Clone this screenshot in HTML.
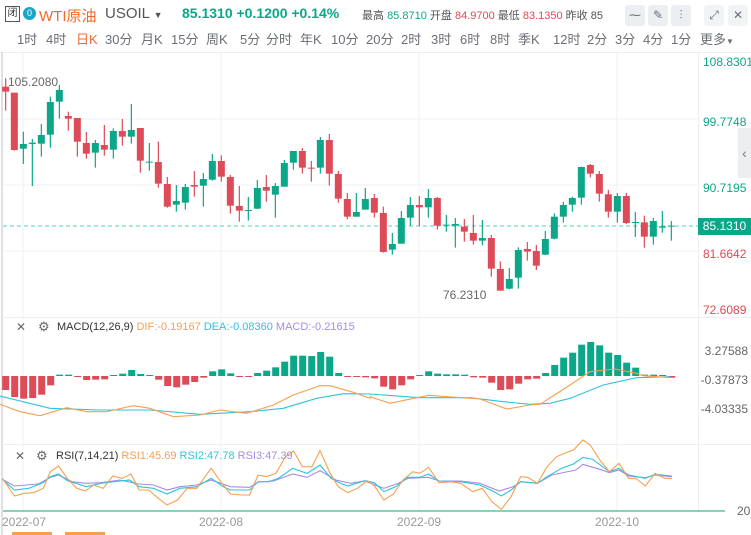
<!DOCTYPE html>
<html><head><meta charset="utf-8"><style>
body{margin:0;width:751px;height:535px;overflow:hidden;background:#fff;font-family:"Liberation Sans","Noto Sans CJK SC",sans-serif;position:relative}
.a{position:absolute;white-space:nowrap}
.tf{position:absolute;top:29px;font-size:13px;color:#6b6e76}
.btn{position:absolute;top:5px;width:20px;height:21px;background:#eceef1;border-radius:3px;color:#6b6e76;font-size:12px;text-align:center;line-height:21px}
</style></head><body>
<div class="a" style="left:5px;top:6px;width:13px;height:14px;border:1px solid #555;font-size:10px;line-height:14px;text-align:center;color:#333">闭</div>
<div class="a" style="left:23px;top:7px;width:13px;height:13px;border-radius:50%;background:#1aa6c8;color:#fff;font-size:9px;line-height:13px;text-align:center">0</div>
<div class="a" style="left:39px;top:5px;font-size:15px;color:#f06a2c">WTI原油</div>
<div class="a" style="left:105px;top:5px;font-size:15px;color:#555">USOIL <span style="font-size:9px">▼</span></div>
<div class="a" style="left:182px;top:5px;font-size:14px;color:#0ca789;font-weight:bold">85.1310 +0.1200 +0.14%</div>
<div class="a" style="left:362px;top:7px;font-size:11px;color:#555">最高 <span style="color:#0ca789">85.8710</span> 开盘 <span style="color:#e04855">84.9700</span> 最低 <span style="color:#e04855">83.1350</span> 昨收 85</div>
<div class="btn" style="left:625px">⁓</div><div class="btn" style="left:648px">✎</div><div class="btn" style="left:671px">⫶</div>
<div class="btn" style="left:704px;background:#f2f3f5">⤢</div><div class="btn" style="left:728px;background:#f2f3f5">✕</div>
<span class="tf" style="left:17px">1时</span><span class="tf" style="left:46px">4时</span><span class="tf" style="left:76px;color:#f06a2c">日K</span><span class="tf" style="left:105px">30分</span><span class="tf" style="left:141px">月K</span><span class="tf" style="left:171px">15分</span><span class="tf" style="left:206px">周K</span><span class="tf" style="left:240px">5分</span><span class="tf" style="left:266px">分时</span><span class="tf" style="left:300px">年K</span><span class="tf" style="left:331px">10分</span><span class="tf" style="left:366px">20分</span><span class="tf" style="left:401px">2时</span><span class="tf" style="left:431px">3时</span><span class="tf" style="left:460px">6时</span><span class="tf" style="left:490px">8时</span><span class="tf" style="left:518px">季K</span><span class="tf" style="left:553px">12时</span><span class="tf" style="left:587px">2分</span><span class="tf" style="left:615px">3分</span><span class="tf" style="left:643px">4分</span><span class="tf" style="left:671px">1分</span><span class="tf" style="left:700px">更多<span style="font-size:8px">▼</span></span>

<svg id="s" class="a" style="left:0;top:0" width="751" height="535"></svg>

<div class="a" style="left:8px;top:75px;font-size:12px;color:#666">105.2080</div>
<div class="a" style="left:443px;top:288px;font-size:12px;color:#666">76.2310</div>
<div class="a" style="left:703px;top:55px;font-size:12px;color:#0ca789">108.8301</div>
<div class="a" style="left:703px;top:115px;font-size:12px;color:#0ca789">99.7748</div>
<div class="a" style="left:703px;top:181px;font-size:12px;color:#0ca789">90.7195</div>
<div class="a" style="left:698px;top:218px;width:53px;height:17px;background:#0ca789;color:#fff;font-size:12px;line-height:17px;text-align:center">85.1310</div>
<div class="a" style="left:703px;top:247px;font-size:12px;color:#e04855">81.6642</div>
<div class="a" style="left:703px;top:303px;font-size:12px;color:#e04855">72.6089</div>
<div class="a" style="left:738px;top:128px;width:13px;height:50px;background:#eceef1;color:#777;font-size:14px;line-height:50px;text-align:center">‹</div>

<div class="a" style="left:16px;top:320px;font-size:12px;color:#666">✕</div>
<div class="a" style="left:38px;top:319px;font-size:13px;color:#666">⚙</div>
<div class="a" style="left:57px;top:321px;font-size:11px;color:#333">MACD(12,26,9) <span style="color:#f5a04f">DIF:-0.19167</span> <span style="color:#2ec3dc">DEA:-0.08360</span> <span style="color:#a58be8">MACD:-0.21615</span></div>
<div class="a" style="right:3px;top:344px;font-size:12px;color:#666">3.27588</div>
<div class="a" style="right:3px;top:373px;font-size:12px;color:#666">-0.37873</div>
<div class="a" style="right:3px;top:402px;font-size:12px;color:#666">-4.03335</div>

<div class="a" style="left:15px;top:449px;font-size:12px;color:#666">✕</div>
<div class="a" style="left:36px;top:448px;font-size:13px;color:#666">⚙</div>
<div class="a" style="left:56px;top:450px;font-size:11px;color:#333">RSI(7,14,21) <span style="color:#f5a04f">RSI1:45.69</span> <span style="color:#2ec3dc">RSI2:47.78</span> <span style="color:#a58be8">RSI3:47.39</span></div>
<div class="a" style="left:737px;top:504px;font-size:12px;color:#666">20</div>
<div class="a" style="left:2px;top:515px;font-size:12px;color:#999">2022-07</div>
<div class="a" style="left:199px;top:515px;font-size:12px;color:#999">2022-08</div>
<div class="a" style="left:397px;top:515px;font-size:12px;color:#999">2022-09</div>
<div class="a" style="left:595px;top:515px;font-size:12px;color:#999">2022-10</div>
<div class="a" style="left:12px;top:532px;width:40px;height:3px;background:#f5a04f"></div>
<div class="a" style="left:65px;top:532px;width:40px;height:3px;background:#f5a04f"></div>

<script>
var G='#0ca789',R='#dc4b57',s='';
[23,221,419,617].forEach(function(x){s+='<line x1="'+x+'" y1="52" x2="'+x+'" y2="512" stroke="#f0f1f4"/>';});
[119,185,251].forEach(function(y){s+='<line x1="3" y1="'+y+'" x2="698" y2="'+y+'" stroke="#f0f1f4"/>';});
s+='<line x1="0" y1="52.5" x2="751" y2="52.5" stroke="#eceef1"/>';
s+='<line x1="698.5" y1="52" x2="698.5" y2="512" stroke="#eceef1"/>';
s+='<line x1="2" y1="52" x2="2" y2="535" stroke="#dde1e6" stroke-width="2"/>';
s+='<line x1="0" y1="317.5" x2="751" y2="317.5" stroke="#eceef1"/><line x1="0" y1="444.5" x2="751" y2="444.5" stroke="#eceef1"/>';
s+='<line x1="3" y1="226" x2="698" y2="226" stroke="#5dd0b8" stroke-dasharray="4,3"/>';
var c1=[[17,R,55,152,80,95],[43,R,98,272,98,270],[70,G,215,312,252,266],[97,G,237,378,248,252],[124,G,192,290,225,251],[151,G,110,263,126,224],[178,G,75,176,90,125],[205,R,155,212,168,176],[232,R,174,290,174,245],[259,R,216,296,249,281],[286,G,240,323,249,278],[313,R,195,287,255,269],[340,G,205,296,213,269],[367,R,177,257,213,230],[394,G,132,251,210,230],[421,R,204,338,204,302],[448,G,249,332,305,308],[475,R,245,383,306,371],[502,R,351,443,372,440],[529,G,375,455,423,434],[556,G,372,449,381,428],[583,R,333,410,375,380],[610,G,339,440,357,377],[637,G,282,362,303,359],[664,R,286,365,303,350],[691,R,345,461,351,437],[718,R,378,485,438,452],[745,G,411,482,450,452],[772,G,360,447,384,446],[799,R,345,425,381,392],[826,G,369,473,378,404],[853,G,300,380,309,380],[880,G,273,329,273,308],[907,R,264,341,273,323],[934,R,303,365,323,326],[961,G,231,341,240,323],[988,R,222,377,240,341],[1015,R,333,428,342,416],[1042,R,399,478,417,470],[1069,G,399,470,456,470],[1096,G,384,449,417,449],[1123,R,402,473,414,458]];
var c2=[[40,R,440,578,459,576],[67,G,519,584,552,569],[94,G,453,551,474,551],[121,G,411,497,435,473],[148,R,408,498,435,442],[175,G,387,473,414,442],[202,R,411,509,414,497],[229,G,465,515,494,497],[256,G,474,563,492,497],[283,R,477,545,500,515],[310,R,465,554,519,542],[337,G,480,556,534,542],[364,R,525,650,534,626],[391,R,604,692,627,692],[418,G,624,688,657,686],[445,G,562,686,570,653],[472,R,546,602,567,575],[499,R,555,630,573,617],[526,G,513,585,537,584],[553,G,460,538,470,536],[580,G,426,488,435,470],[607,G,410,455,414,434],[634,G,320,434,321,413],[661,R,312,352,315,341],[688,R,333,425,342,401],[715,R,390,473,403,455],[742,G,399,488,408,455],[769,R,399,492,408,489],[796,G,456,531,486,488],[823,R,467,563,487,530],[850,G,474,554,483,530],[877,G,453,518,499,503],[904,G,483,542,497,500]];
function cand(a,off){a.forEach(function(d){var x=d[0]/3+off,wt=d[2]/3+60,wb=d[3]/3+60,bt=d[4]/3+60,bb=d[5]/3+60,h=Math.max(1,bb-bt);
s+='<line x1="'+x+'" y1="'+wt+'" x2="'+x+'" y2="'+wb+'" stroke="'+d[1]+'" stroke-width="1.2"/>';
s+='<rect x="'+(x-3.5)+'" y="'+bt+'" width="7" height="'+h+'" fill="'+d[1]+'"/>';});}
cand(c1,0);cand(c2,370);
var m=[-42,-63,-68,-66,-56,-28,4,4,-2,-12,-11,-10,3,7,18,6,3,-11,-30,-34,-26,-18,-5,14,20,8,-2,-2,9,16,26,43,61,61,60,72,58,9,-2,-2,-4,-7,-32,-40,-28,-10,2,14,7,5,5,4,-4,-5,-20,-42,-40,-23,-10,-8,9,33,55,70,94,102,92,70,63,40,25,4,4,2,-5];
m.forEach(function(v,i){var x=5.7+i*9-3.5,h=Math.max(1,Math.abs(v)/3),y=v>0?376-h:376;s+='<rect x="'+x+'" y="'+y+'" width="7" height="'+h+'" fill="'+(v>=0?G:R)+'"/>';});
function pl(p1,p2,col,sx,sy,oy){var pts=[];p1.forEach(function(p){pts.push((p[0]/sx)+','+(p[1]/3+oy));});(p2||[]).forEach(function(p){pts.push((p[0]/3+370)+','+(p[1]/3+oy));});
s+='<polyline points="'+pts.join(' ')+'" fill="none" stroke="'+col+'" stroke-width="1.1"/>';}
pl([[0,243],[150,280],[300,285],[450,285],[600,298],[750,290],[850,280],[950,250],[1030,236],[1110,237]],[[0,237],[150,248],[300,248],[400,260],[480,268],[540,265],[600,250],[700,210],[800,188],[900,185]],'#2ec3dc',3,3,315);
pl([[0,268],[60,290],[120,302],[200,278],[260,290],[320,290],[400,272],[450,280],[520,305],[600,300],[660,285],[740,295],[820,270],[880,240],[960,212],[990,212],[1060,232],[1110,250]],[[0,245],[60,265],[175,241],[330,252],[410,282],[480,270],[510,268],[600,210],[660,170],[735,162],[800,175],[820,182],[900,188]],'#f5a04f',3,3,315);
s+='<line x1="3" y1="511" x2="725" y2="511" stroke="#3dbb8c" stroke-width="1.2"/>';
var r1=[[5,175],[30,228],[50,220],[70,218],[90,205],[105,155],[122,138],[140,175],[160,205],[178,213],[195,195],[215,205],[235,168],[255,175],[273,162],[290,210],[310,210],[330,235],[348,255],[370,240],[390,205],[410,205],[440,145],[460,185],[480,222],[505,225],[520,225],[538,165],[555,170],[575,160],[595,110],[612,93],[630,140],[650,140],[667,92],[688,160],[705,200],[725,218],[745,205],[765,182],[780,197],[800,240],[820,222],[840,180],[860,155],[875,160],[893,142],[915,188],[940,185],[960,190],[985,215],[1005,205],[1025,245],[1045,268],[1065,230],[1085,170],[1100,172],[1120,190],[1140,140],[1160,110],[1180,98],[1195,90],[1215,60],[1230,75],[1250,120],[1270,155],[1290,130],[1310,175],[1325,175],[1345,198],[1365,160],[1385,175],[1400,175]];
var r2=[[5,178],[30,210],[60,205],[90,188],[105,170],[122,162],[140,182],[180,200],[210,190],[250,183],[270,180],[290,200],[320,205],[348,222],[375,205],[410,200],[440,175],[465,200],[480,210],[520,210],[538,185],[560,185],[580,175],[610,145],[640,160],[667,135],[690,175],[710,190],[725,198],[760,182],[780,188],[800,215],[825,200],[850,172],[875,172],[893,162],[915,183],[960,185],[1000,195],[1025,212],[1045,228],[1065,210],[1085,185],[1120,190],[1140,170],[1170,145],[1195,132],[1215,112],[1235,118],[1270,155],[1290,145],[1310,165],[1345,175],[1365,163],[1400,168]];
var r3=[[5,178],[30,198],[80,192],[105,172],[122,165],[150,185],[180,190],[210,188],[250,180],[290,192],[320,195],[348,210],[375,200],[410,195],[440,180],[480,200],[520,202],[538,186],[570,183],[610,162],[640,172],[667,152],[700,180],[730,190],[760,183],[800,205],[830,190],[850,175],[893,172],[915,183],[960,183],[1000,190],[1040,213],[1070,200],[1085,185],[1120,190],[1150,165],[1200,150],[1215,133],[1250,148],[1270,158],[1290,150],[1310,168],[1345,173],[1365,165],[1400,170]];
pl(r3,null,'#a58be8',2.084,3,420);pl(r2,null,'#2ec3dc',2.084,3,420);pl(r1,null,'#f5a04f',2.084,3,420);
document.getElementById('s').innerHTML=s;
</script>
</body></html>
